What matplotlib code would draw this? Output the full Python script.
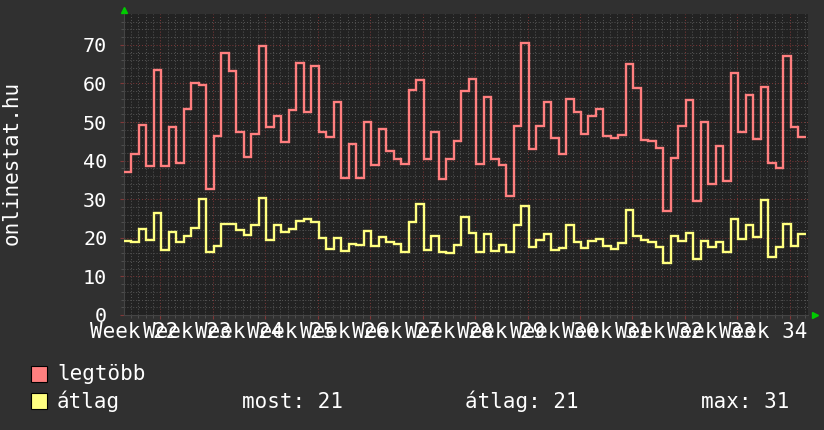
import numpy as np
import matplotlib
matplotlib.use('Agg')
import matplotlib.pyplot as plt
from matplotlib.patches import Rectangle

# daily values
legtobb = [37, 41.6, 49.3, 38.5, 63.4, 38.7, 48.6, 39.5, 53.4, 60, 59.7, 32.7, 46.5, 68, 63.1, 47.5, 41, 46.9,
           69.8, 48.7, 51.6, 44.9, 53, 65.4, 52.7, 64.4, 47.5, 46, 55.1, 35.6, 44.2, 35.6, 49.9, 38.9, 48.2, 42.4, 40.5,
           39.2, 58.3, 60.9, 40.5, 47.3, 35.3, 40.3, 45.2, 58.1, 61.2, 39.2, 56.5, 40.3, 39, 30.9, 49, 70.6, 43,
           49.1, 55.3, 45.8, 41.7, 56, 52.7, 46.8, 51.6, 53.3, 46.4, 45.8, 46.7, 65, 58.9, 45.4, 45.2, 43.2, 27,
           40.8, 49, 55.6, 29.6, 49.9, 33.9, 43.9, 34.7, 62.8, 47.3, 57, 45.5, 59.2, 39.5, 38, 67.2, 48.8, 46]
atlag = [19.3, 19, 22.3, 19.5, 26.5, 16.9, 21.6, 18.8, 20.6, 22.6, 30.1, 16.4, 17.9, 23.7, 23.5, 21.9, 20.8, 23.2,
         30.2, 19.4, 23.2, 21.6, 22.4, 24.4, 24.9, 24.2, 20, 17.1, 20, 16.7, 18.4, 18.2, 21.8, 17.9, 20.3, 19, 18.5,
         16.4, 24.1, 28.8, 16.9, 20.4, 16.2, 16, 18.2, 25.4, 21.2, 16.4, 21.1, 16.7, 18.2, 16.2, 23.2, 28.3, 17.7,
         19.4, 21, 16.9, 17.4, 23.4, 18.8, 17.4, 19.2, 19.7, 18, 17.1, 18.6, 27.2, 20.5, 19.4, 19, 17.7, 13.4,
         20.5, 19.3, 21.2, 14.6, 19.3, 17.5, 18.8, 16.4, 24.9, 19.6, 23.3, 20.3, 29.8, 15.1, 17.5, 23.6, 18, 21.1]
weeks = list(range(22, 35))
week_labels = ['Week %d' % w for w in weeks]

mono = 'DejaVu Sans Mono'
bg = '#303030'
canvas = '#222222'
red = '#ff7f7f'
yellow = '#ffff80'

fig = plt.figure(figsize=(8.24, 4.30), dpi=100, facecolor=bg)
ax = fig.add_axes([124/824, 1-315/430, 684/824, 301/430], facecolor=canvas)

edges = np.arange(len(legtobb) + 1)
ax.stairs(legtobb, edges, baseline=None, color=red, lw=1.7, zorder=3)
ax.stairs(atlag, edges, baseline=None, color=yellow, lw=1.7, zorder=3)

# week grid (first week line 4.87 days into the plot)
week_lines = 4.87 + 7*np.arange(len(weeks))
ax.set_xticks(week_lines)
ax.set_xticklabels([])
ax.set_xticks(np.arange(4.87 - 4, 92, 1), minor=True)
ax.set_yticks(range(0, 71, 10))
ax.set_yticks(range(0, 78, 2), minor=True)
# limits after the ticks, set_xticks would widen them
ax.set_xlim(0, 91.3)
ax.set_ylim(0, 78)

ax.grid(which='minor', color='#555555', lw=0.7, ls=(0, (1, 2)))
ax.grid(which='major', color='#803838', lw=0.7, ls=(0, (1, 2)))
ax.set_axisbelow(True)

ax.tick_params(which='major', colors='#803838', labelcolor='white', length=3, width=0.8,
               labelsize=14.5, pad=9)
ax.tick_params(which='minor', colors='#555555', length=2, width=0.6)
for lab in ax.get_yticklabels():
    lab.set_family(mono)

for s in ['top', 'right']:
    ax.spines[s].set_visible(False)
ax.spines['left'].set_color('#444444')
ax.spines['bottom'].set_color('#444444')

# labels centred on the weeks, they overlap like in the original
for pos, lab in zip(week_lines - 3.5, week_labels):
    ax.text(pos, -23/301, lab, ha='center', va='baseline', color='white', fontsize=15,
            family=mono, transform=ax.get_xaxis_transform(), clip_on=False)

# little green arrows at the axis ends
ax.plot([0], [1.013], marker='^', color='#00cc00', ms=5, transform=ax.transAxes, clip_on=False)
ax.plot([1.0102], [0], marker='>', color='#00cc00', ms=5, transform=ax.transAxes, clip_on=False)

fig.text(12/824, 1-163/430, 'onlinestat.hu', rotation=90, ha='center', va='center',
         color='white', fontsize=15, family=mono)

# legend
fig.patches.append(Rectangle((31.5/824, 1-382/430), 16/824, 16/430, facecolor=red, edgecolor='black',
                             lw=0.8, transform=fig.transFigure))
fig.patches.append(Rectangle((31.5/824, 1-409/430), 16/824, 16/430, facecolor=yellow, edgecolor='black',
                             lw=0.8, transform=fig.transFigure))
leg = dict(color='white', fontsize=15, family=mono, va='baseline')
fig.text(57/824, 1-380/430, 'legtöbb', **leg)
fig.text(57/824, 1-408/430, 'átlag', **leg)
fig.text(242/824, 1-408/430, 'most: %d' % round(atlag[-1]), **leg)
fig.text(465/824, 1-408/430, 'átlag: %d' % round(np.mean(atlag) + 0.5), **leg)
fig.text(701/824, 1-408/430, 'max: %d' % round(max(atlag) + 0.5), **leg)

fig.savefig('out.png', dpi=100, facecolor=bg)
